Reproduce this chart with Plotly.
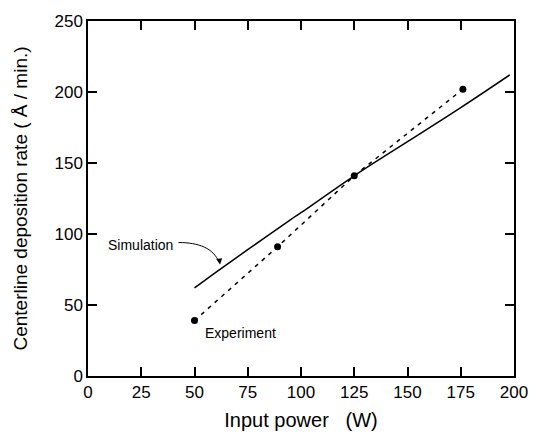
import plotly.graph_objects as go

# Data
exp_power = [50, 89, 125, 176]
exp_rate = [39, 91, 141, 202]
sim_power = [50, 60, 75, 95, 100, 125, 150, 175, 198]
sim_rate = [62, 73, 89, 110, 115, 141, 165, 189, 212]
x_ticks = [0, 25, 50, 75, 100, 125, 150, 175, 200]
y_ticks = [0, 50, 100, 150, 200, 250]

FONT = "Liberation Sans, Arial, sans-serif"

fig = go.Figure()
fig.add_trace(go.Scatter(x=sim_power, y=sim_rate, mode="lines",
                         line=dict(color="black", width=1.5, shape="spline"),
                         showlegend=False, hoverinfo="skip"))
fig.add_trace(go.Scatter(x=exp_power, y=exp_rate, mode="lines+markers",
                         line=dict(color="black", width=1.5, dash="4px,5px"),
                         marker=dict(color="black", size=7),
                         showlegend=False, hoverinfo="skip"))

# curved arrow for Simulation label
fig.add_shape(type="path", xref="x", yref="y",
              path="M 42.5,94 C 52,94 59,90 61.5,80",
              line=dict(color="black", width=1))
fig.add_annotation(x=62, y=78.5, xref="x", yref="y", ax=-1, ay=-7,
                   showarrow=True, arrowhead=2, arrowsize=1.2, arrowwidth=1,
                   arrowcolor="black", text="")

fig.add_annotation(x=24.5, y=92.5, xref="x", yref="y", text="Simulation",
                   showarrow=False, font=dict(family=FONT, size=14, color="black"))
fig.add_annotation(x=71.5, y=30, xref="x", yref="y", text="Experiment",
                   showarrow=False, font=dict(family=FONT, size=14, color="black"))

axis_common = dict(showline=True, linecolor="black", linewidth=1.5, mirror="ticks",
                   ticks="inside", ticklen=9, tickwidth=1.5, tickcolor="black",
                   showgrid=False, zeroline=False,
                   tickfont=dict(family=FONT, size=17, color="black"))

fig.update_xaxes(range=[0, 200], tickvals=x_ticks,
                 title=dict(text="Input power\u00a0\u00a0\u00a0(W)", font=dict(family=FONT, size=20, color="black"), standoff=12),
                 **axis_common)
fig.update_yaxes(range=[0, 250], tickvals=y_ticks,
                 title=dict(text="Centerline deposition rate ( Å / min.)", font=dict(family=FONT, size=19, color="black"), standoff=22),
                 **axis_common)

fig.update_layout(width=540, height=444, margin=dict(l=88, r=26, t=17, b=68),
                  plot_bgcolor="white", paper_bgcolor="white")

fig.write_html("out.html", config={"displayModeBar": False},
               post_script="document.body.style.margin='0';document.body.style.overflow='hidden';")
